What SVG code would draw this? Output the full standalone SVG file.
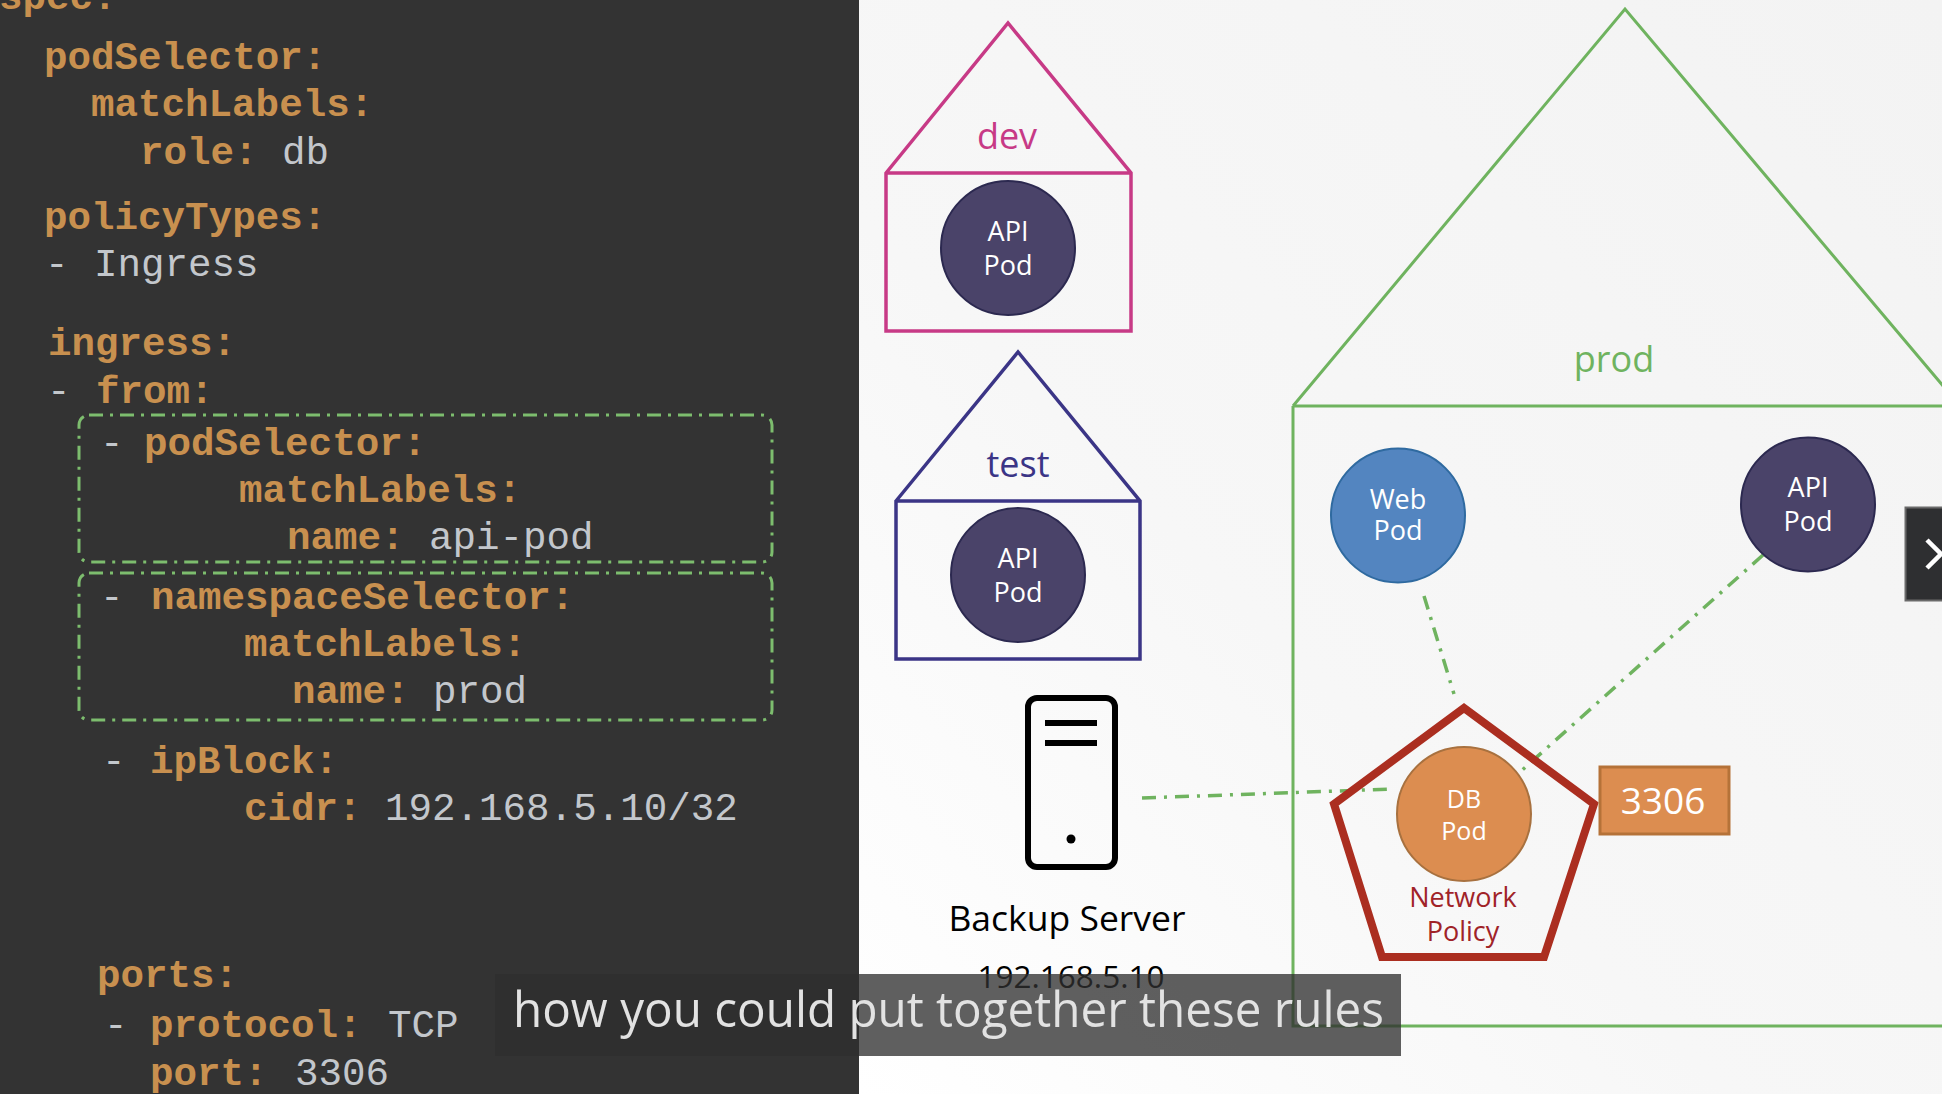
<svg xmlns="http://www.w3.org/2000/svg" width="1942" height="1094" viewBox="0 0 1942 1094">
<style>
.k{font:bold 39.2px "Liberation Mono",monospace;fill:#c8904f}
.v{font:39.2px "Liberation Mono",monospace;fill:#c3c7cc}
.s{font-family:"Open Sans","Noto Sans",sans-serif;text-anchor:middle}
.w{fill:#fff;font-size:27px}
.api{fill:#4a4369;stroke:#2c2950;stroke-width:2}
.box{fill:none;stroke:#7dbd6e;stroke-width:3;stroke-dasharray:14 7 3 7}
.c{fill:none;stroke:#6fb35f;stroke-width:3.500;stroke-dasharray:14 8 3 8}
</style>
<defs><linearGradient id="bg" x1="1" y1="0" x2="0" y2="1"><stop offset="0" stop-color="#f3f3f3"/><stop offset="0.6" stop-color="#f7f7f7"/><stop offset="1" stop-color="#ffffff"/></linearGradient></defs>
<rect x="859" width="1083" height="1094" fill="url(#bg)"/>
<rect width="859" height="1094" fill="#333333"/>
<g id="code">
<text class="k" x="-1" y="9">spec:</text>
<text class="k" x="44" y="69">podSelector:</text>
<text class="k" x="91" y="116">matchLabels:</text>
<text class="k" x="140" y="164">role:</text><text class="v" x="282" y="164">db</text>
<text class="k" x="44" y="229">policyTypes:</text>
<text class="v" x="45" y="276">-</text><text class="v" x="94" y="276">Ingress</text>
<text class="k" x="48" y="355">ingress:</text>
<text class="v" x="47" y="403">-</text><text class="k" x="96" y="403">from:</text>
<text class="v" x="100" y="455">-</text><text class="k" x="144" y="455">podSelector:</text>
<text class="k" x="239" y="502">matchLabels:</text>
<text class="k" x="287" y="549">name:</text><text class="v" x="429" y="549">api-pod</text>
<text class="v" x="100" y="609">-</text><text class="k" x="151" y="609">namespaceSelector:</text>
<text class="k" x="244" y="656">matchLabels:</text>
<text class="k" x="292" y="703">name:</text><text class="v" x="433" y="703">prod</text>
<text class="v" x="102" y="773">-</text><text class="k" x="150" y="773">ipBlock:</text>
<text class="k" x="244" y="820">cidr:</text><text class="v" x="385" y="820">192.168.5.10/32</text>
<text class="k" x="97" y="987">ports:</text>
<text class="v" x="104" y="1037">-</text><text class="k" x="150" y="1037">protocol:</text><text class="v" x="388" y="1037">TCP</text>
<text class="k" x="150" y="1085">port:</text><text class="v" x="295" y="1085">3306</text>
<rect class="box" x="79" y="415" width="693" height="147" rx="10"/>
<rect class="box" x="79" y="573" width="693" height="147" rx="10"/>
</g>
<g id="connectors">
<line class="c" x1="1424" y1="596" x2="1454" y2="694"/>
<line class="c" x1="1763" y1="555" x2="1520" y2="772"/>
<line class="c" x1="1142" y1="798" x2="1393" y2="789"/>
</g>
<g id="ns-dev">
<path d="M886 173L1008 23L1131 173V331H886Z M886 173H1131" fill="none" stroke="#c73a86" stroke-width="3.500"/>
<text class="s" x="1007" y="149" font-size="36" fill="#c73a86">dev</text>
</g>
<g id="pod-dev-api">
<circle class="api" cx="1008" cy="248" r="67"/>
<text class="s w" x="1008" y="241">API</text><text class="s w" x="1008" y="275">Pod</text>
</g>
<g id="ns-test">
<path d="M896 501L1018 352L1140 501V659H896Z M896 501H1140" fill="none" stroke="#3b3586" stroke-width="3.500"/>
<text class="s" x="1018" y="477" font-size="36" fill="#3b3586">test</text>
</g>
<g id="pod-test-api">
<circle class="api" cx="1018" cy="575" r="67"/>
<text class="s w" x="1018" y="568">API</text><text class="s w" x="1018" y="602">Pod</text>
</g>
<g id="ns-prod">
<path d="M1293 406L1625 9L1960 406 M1293 406H1960 M1293 406V1026H1960" fill="none" stroke="#6fb35f" stroke-width="3"/>
<text class="s" x="1614" y="372" font-size="36" fill="#6fb35f">prod</text>
</g>
<g id="pod-web">
<circle cx="1398" cy="515.500" r="67" fill="#5385c0" stroke="#2f6aa0" stroke-width="2"/>
<text class="s w" x="1398" y="509">Web</text><text class="s w" x="1398" y="540">Pod</text>
</g>
<g id="pod-prod-api">
<circle class="api" cx="1808" cy="504.500" r="67"/>
<text class="s w" x="1808" y="497">API</text><text class="s w" x="1808" y="531">Pod</text>
</g>
<g id="network-policy">
<path d="M1464 708L1594 804L1544 957H1382L1334 804Z" fill="none" stroke="#ab2e20" stroke-width="8" stroke-linejoin="miter"/>
<text class="s" x="1463" y="907" font-size="27" fill="#a02328">Network</text>
<text class="s" x="1463" y="941" font-size="27" fill="#a02328">Policy</text>
</g>
<g id="pod-db">
<circle cx="1464" cy="814" r="67" fill="#dc8d50" stroke="#a8713f" stroke-width="2"/>
<text class="s w" x="1464" y="808" style="font-size:25px">DB</text><text class="s w" x="1464" y="840" style="font-size:25px">Pod</text>
</g>
<g id="port">
<rect x="1600" y="767" width="129" height="67" fill="#dc8d50" stroke="#b57238" stroke-width="3"/>
<text class="s" x="1663" y="814" font-size="37" fill="#fff">3306</text>
</g>
<g id="backup-server">
<rect x="1028" y="698" width="87" height="169" rx="9" fill="none" stroke="#000" stroke-width="6"/>
<rect x="1045" y="720" width="52" height="6"/><rect x="1045" y="740" width="52" height="6"/>
<circle cx="1071" cy="839" r="4.500"/>
<text class="s" x="1067" y="931" font-size="35.500" fill="#000">Backup Server</text>
<text class="s" x="1071" y="988" font-size="31.500" fill="#000">192.168.5.10</text>
</g>
<g id="nav">
<rect x="1905.500" y="507.500" width="40" height="93" fill="#2e2f31" stroke="#6a6a6a" stroke-width="2"/>
<path d="M1927 540L1941 554L1927 568" fill="none" stroke="#fff" stroke-width="4.500"/>
</g>
<g id="caption">
<rect x="495" y="974" width="906" height="82" fill="#2f2f2f" fill-opacity="0.77"/>
<text x="513" y="1027" font-family="'Open Sans','Noto Sans',sans-serif" font-size="49" fill="#e2e2e2" textLength="871" lengthAdjust="spacingAndGlyphs">how you could put together these rules</text>
</g>
</svg>
